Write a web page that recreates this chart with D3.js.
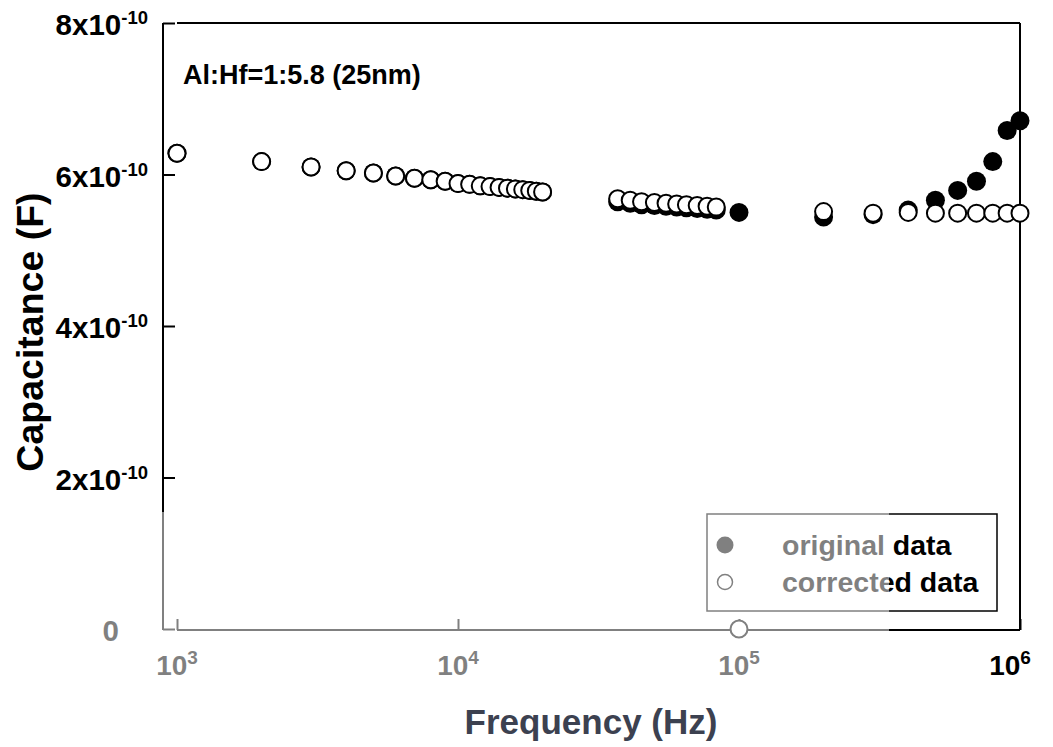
<!DOCTYPE html>
<html lang="en">
	<head>
		<meta charset="utf-8">
		<title>capacitance vs frequency</title>
		<script type="text/javascript" src="https://cdnjs.cloudflare.com/ajax/libs/d3/7.8.5/d3.min.js"></script>
		<style type="text/css">
			body { margin: 0; background: #fff; }
			text { font-family: Arial, "Liberation Sans", sans-serif; font-weight: bold; }
		</style>
	</head>

	<body>
        <script type="text/javascript">

		// frequency (Hz)
		var freq = [1000, 2000, 3000, 4000, 5000, 6000, 7000, 8000, 9000,
			10000, 11000, 12000, 13000, 14000, 15000, 16000, 17000, 18000, 19000, 20000,
			37000, 41000, 45000, 50000, 55000, 60000, 65000, 71000, 77000, 83000,
			100000, 200000, 300000, 400000, 500000, 600000, 700000, 800000, 900000, 1000000]

		// capacitance in units of 1e-10 F
		var original = [6.28, 6.17, 6.10, 6.05, 6.02, 5.98, 5.95, 5.93, 5.91,
			5.88, 5.87, 5.85, 5.84, 5.83, 5.82, 5.81, 5.80, 5.79, 5.78, 5.77,
			5.64, 5.62, 5.60, 5.59, 5.58, 5.57, 5.56, 5.55, 5.54, 5.53,
			5.50, 5.44, 5.47, 5.53, 5.66, 5.79, 5.91, 6.17, 6.58, 6.71]

		var corrected = [6.28, 6.17, 6.10, 6.05, 6.02, 5.98, 5.95, 5.93, 5.91,
			5.88, 5.87, 5.85, 5.84, 5.83, 5.82, 5.81, 5.80, 5.79, 5.78, 5.77,
			5.68, 5.66, 5.64, 5.63, 5.62, 5.61, 5.60, 5.59, 5.58, 5.57,
			0, 5.51, 5.49, 5.50, 5.49, 5.49, 5.49, 5.49, 5.49, 5.49]

		var xTicks = [1e3, 1e4, 1e5, 1e6]
		var xTickExp = ["3", "4", "5", "6"]
		var yTicks = [0, 2, 4, 6, 8]
		var yTickMant = ["0", "2", "4", "6", "8"]

		var seriesNames = ["original data", "corrected data"]

		drawChart()

		function drawChart(){
			var w = 1053
			var h = 747
			var left = 177, right = 1020, top = 23, bottom = 629
			var yAxisX = 163

			var svg = d3.select("body")
						.append("svg")
						.attr("width", w)
						.attr("height", h)

			var xScale = d3.scaleLog()
				.domain([1e3, 1e6])
				.range([left, right])

			var yScale = d3.scaleLinear()
				.domain([0, 8])
				.range([bottom, top])

			// frame: top and right
			svg.append("line")
				.attr("x1", left).attr("x2", right)
				.attr("y1", top).attr("y2", top)
				.attr("stroke", "#000").attr("stroke-width", 2)
			svg.append("line")
				.attr("x1", right).attr("x2", right)
				.attr("y1", top).attr("y2", bottom + 1)
				.attr("stroke", "#000").attr("stroke-width", 2)

			// y axis (offset to the left)
			var yAxis = d3.axisRight(yScale)
				.tickValues(yTicks)
				.tickSize(12)
				.tickFormat("")
			var gy = svg.append("g")
				.attr("transform", "translate(" + yAxisX + ",0)")
				.call(yAxis)
			gy.select(".domain").attr("d", "M0," + top + "V" + (bottom + 1))
			gy.selectAll("path, line").attr("stroke", "#000").attr("stroke-width", 2)

			// x axis
			var xAxis = d3.axisTop(xScale)
				.tickValues(xTicks)
				.tickSize(11)
				.tickFormat("")
			var gx = svg.append("g")
				.attr("transform", "translate(0," + (bottom + 1) + ")")
				.call(xAxis)
			gx.select(".domain").attr("d", "M" + left + ",0H" + right)
			gx.selectAll("path, line").attr("stroke", "#000").attr("stroke-width", 2)

			// y tick labels
			var yl = svg.selectAll(".ylab")
				.data(yTicks)
				.enter()
				.append("text")
				.attr("class", "ylab")
				.attr("x", function(d){ return d == 0 ? 119 : 148 })
				.attr("y", function(d){ return yScale(d) + 12 })
				.attr("text-anchor", "end")
				.attr("font-size", 29.5)
				.attr("fill", "#000")
			yl.append("tspan")
				.text(function(d, i){ return d == 0 ? "0" : yTickMant[i] + "x10" })
			yl.append("tspan")
				.attr("dy", -11)
				.attr("font-size", 18.5)
				.text(function(d){ return d == 0 ? "" : "-10" })

			// x tick labels
			var xl = svg.selectAll(".xlab")
				.data(xTicks)
				.enter()
				.append("text")
				.attr("class", "xlab")
				.attr("x", function(d, i){ return xScale(d) - (i == 3 ? 10 : 0) })
				.attr("y", 675)
				.attr("text-anchor", "middle")
				.attr("font-size", 28)
				.attr("fill", "#000")
			xl.append("tspan").text("10")
			xl.append("tspan")
				.attr("dy", -11)
				.attr("font-size", 19)
				.text(function(d, i){ return xTickExp[i] })

			// data points: original first, corrected on top
			svg.selectAll(".orig")
				.data(freq)
				.enter()
				.append("circle")
				.attr("class", "orig")
				.attr("cx", function(d){ return xScale(d) })
				.attr("cy", function(d, i){ return yScale(original[i]) })
				.attr("r", 9.5)
				.attr("fill", "#000")

			svg.selectAll(".corr")
				.data(freq)
				.enter()
				.append("circle")
				.attr("class", "corr")
				.attr("cx", function(d){ return xScale(d) })
				.attr("cy", function(d, i){ return yScale(corrected[i]) })
				.attr("r", 8.5)
				.attr("fill", "#fff")
				.attr("stroke", "#000")
				.attr("stroke-width", 2)

			// annotation
			svg.append("text")
				.attr("x", 183)
				.attr("y", 84)
				.attr("font-size", 27)
				.attr("fill", "#000")
				.text("Al:Hf=1:5.8 (25nm)")

			// legend
			svg.append("rect")
				.attr("x", 707).attr("y", 514)
				.attr("width", 290).attr("height", 97)
				.attr("fill", "none")
				.attr("stroke", "#000")
				.attr("stroke-width", 1.5)

			svg.append("circle")
				.attr("cx", 725).attr("cy", 545).attr("r", 8.5)
				.attr("fill", "#000")
			svg.append("circle")
				.attr("cx", 725).attr("cy", 582).attr("r", 7.5)
				.attr("fill", "#fff")
				.attr("stroke", "#000")
				.attr("stroke-width", 1.5)

			svg.selectAll(".leg")
				.data(seriesNames)
				.enter()
				.append("text")
				.attr("class", "leg")
				.attr("x", 782)
				.attr("y", function(d, i){ return 555 + i * 37 })
				.attr("font-size", 28.5)
				.attr("fill", "#000")
				.text(function(d){ return d })

			// y axis title
			svg.append("text")
				.attr("transform", "translate(43,332) rotate(-90)")
				.attr("text-anchor", "middle")
				.attr("font-size", 37.5)
				.attr("fill", "#000")
				.text("Capacitance (F)")

			// faded lower-left region (watermark overlay in the source)
			svg.append("rect")
				.attr("x", 90).attr("y", 512)
				.attr("width", 799).attr("height", 235)
				.attr("fill", "#fff")
				.attr("opacity", 0.5)

			// x axis title
			svg.append("text")
				.attr("x", 591)
				.attr("y", 734)
				.attr("text-anchor", "middle")
				.attr("font-size", 35)
				.attr("fill", "#3c4150")
				.text("Frequency (Hz)")
		}
        </script>
	</body>
</html>
